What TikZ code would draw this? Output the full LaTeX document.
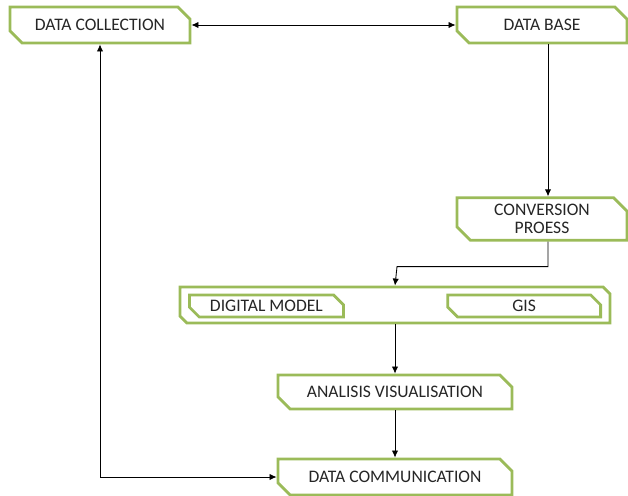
\documentclass[tikz,border=0pt]{standalone}
\usepackage{fontspec}
\setmainfont{Carlito}
\usetikzlibrary{shapes.misc,arrows.meta}
\definecolor{boxgreen}{RGB}{155,187,89}
\definecolor{boxtext}{RGB}{38,38,38}
\tikzset{
    stagebox/.style={shape=chamfered rectangle, chamfered rectangle corners={north east,south west},
        chamfered rectangle xsep=5pt, chamfered rectangle ysep=4.5pt,
        draw=boxgreen, line width=2pt, fill=white, text=boxtext, align=center,
        font=\fontsize{12.5}{13}\selectfont, inner sep=0pt},
    innerbox/.style={stagebox, chamfered rectangle xsep=3.5pt, chamfered rectangle ysep=3.5pt},
    link/.style={draw=black, line width=0.6pt, -{Latex[length=5pt,width=4.5pt]}},
    biglink/.style={draw=black, line width=0.6pt, {Latex[length=5pt,width=4.5pt]}-{Latex[length=5pt,width=4.5pt]}}
}
\begin{document}
\begin{tikzpicture}[x=0.025cm, y=-0.025cm]
    \useasboundingbox (0,0) rectangle (628,495);

    \node[stagebox, minimum width=4.5cm, minimum height=0.9cm] (coll) at (100,25) {DATA COLLECTION};
    \node[stagebox, minimum width=4.25cm, minimum height=0.9cm] (base) at (542,25) {DATA BASE};
    \node[stagebox, minimum width=4.25cm, minimum height=0.9cm] (conv) at (542,219) {CONVERSION\\PROESS};
    \node[stagebox, minimum width=10.75cm, minimum height=0.9cm] (model) at (395,305) {\strut};
    \node[innerbox, minimum width=3.85cm, minimum height=0.55cm, anchor=west] (digital) at (188,306) {DIGITAL MODEL};
    \node[innerbox, minimum width=3.82cm, minimum height=0.55cm, anchor=east] (gis) at (602,306) {GIS};
    \node[stagebox, minimum width=5.85cm, minimum height=0.85cm] (anal) at (395,392) {ANALISIS VISUALISATION};
    \node[stagebox, minimum width=5.85cm, minimum height=0.9cm] (comm) at (395,477) {DATA COMMUNICATION};

    \draw [biglink] (coll.east) -- (base.west);
    \draw [link] ([xshift=0.15cm]base.south) -- ([xshift=0.15cm]conv.north);
    \draw [link] ([xshift=0.15cm]conv.south) |- ++(-151,25) -- (model.north);
    \draw [link] (model.south) -- (anal.north);
    \draw [link] (anal.south) -- (comm.north);
    \draw [biglink] (coll.south) |- (comm.west);

\end{tikzpicture}
\end{document}
